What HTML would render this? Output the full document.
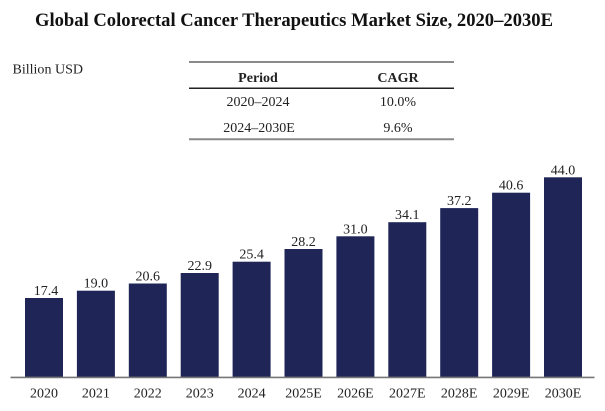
<!DOCTYPE html>
<html>
<head>
<meta charset="utf-8">
<style>
html,body{margin:0;padding:0;background:#fff;}
svg{display:block;}
text{font-family:"Liberation Serif","Times New Roman",serif;}
</style>
</head>
<body>
<svg width="605" height="411" viewBox="0 0 605 411" xmlns="http://www.w3.org/2000/svg">
  <rect width="605" height="411" fill="#fff"/>
  <text x="35" y="26" font-size="19" font-weight="bold" fill="#111" textLength="518" lengthAdjust="spacingAndGlyphs">Global Colorectal Cancer Therapeutics Market Size, 2020–2030E</text>
  <text x="12.5" y="73.5" font-size="14" fill="#222" textLength="70.5" lengthAdjust="spacingAndGlyphs">Billion USD</text>

  <!-- table -->
  <line x1="189" y1="62" x2="454" y2="62" stroke="#8a8a8a" stroke-width="2"/>
  <line x1="189" y1="88.3" x2="454" y2="88.3" stroke="#222" stroke-width="1.5"/>
  <line x1="189" y1="139.3" x2="454" y2="139.3" stroke="#8a8a8a" stroke-width="2"/>
  <g font-size="14" fill="#222" text-anchor="middle">
    <text x="258" y="82" font-weight="bold">Period</text>
    <text x="398" y="82" font-weight="bold">CAGR</text>
    <text x="258" y="106">2020–2024</text>
    <text x="398" y="106">10.0%</text>
    <text x="259" y="132">2024–2030E</text>
    <text x="398" y="132">9.6%</text>
  </g>

  <!-- bars -->
  <g fill="#1f2657">
    <rect x="25" y="298" width="38" height="79"/>
    <rect x="76.9" y="290.7" width="38" height="86.3"/>
    <rect x="128.8" y="283.5" width="38" height="93.5"/>
    <rect x="180.7" y="273" width="38" height="104"/>
    <rect x="232.6" y="261.7" width="38" height="115.3"/>
    <rect x="284.5" y="249" width="38" height="128"/>
    <rect x="336.4" y="236.3" width="38" height="140.7"/>
    <rect x="388.3" y="222.2" width="38" height="154.8"/>
    <rect x="440.2" y="208.1" width="38" height="168.9"/>
    <rect x="492.1" y="192.7" width="38" height="184.3"/>
    <rect x="544" y="177.3" width="38" height="199.7"/>
  </g>
  <line x1="10.5" y1="377.4" x2="594.5" y2="377.4" stroke="#777" stroke-width="1.6"/>

  <!-- value labels -->
  <g font-size="14" fill="#222" text-anchor="middle">
    <text x="46" y="295">17.4</text>
    <text x="95.9" y="287.7">19.0</text>
    <text x="147.8" y="280.5">20.6</text>
    <text x="199.7" y="270">22.9</text>
    <text x="251.6" y="258.7">25.4</text>
    <text x="303.5" y="246">28.2</text>
    <text x="355.4" y="233.3">31.0</text>
    <text x="407.3" y="219.2">34.1</text>
    <text x="459.2" y="205.1">37.2</text>
    <text x="511.1" y="189.7">40.6</text>
    <text x="563" y="174.3">44.0</text>
  </g>

  <!-- x labels -->
  <g font-size="14" fill="#222" text-anchor="middle">
    <text x="44" y="397.7">2020</text>
    <text x="95.9" y="397.7">2021</text>
    <text x="147.8" y="397.7">2022</text>
    <text x="199.7" y="397.7">2023</text>
    <text x="251.6" y="397.7">2024</text>
    <text x="303.5" y="397.7">2025E</text>
    <text x="355.4" y="397.7">2026E</text>
    <text x="407.3" y="397.7">2027E</text>
    <text x="459.2" y="397.7">2028E</text>
    <text x="511.1" y="397.7">2029E</text>
    <text x="563" y="397.7">2030E</text>
  </g>
</svg>
</body>
</html>
